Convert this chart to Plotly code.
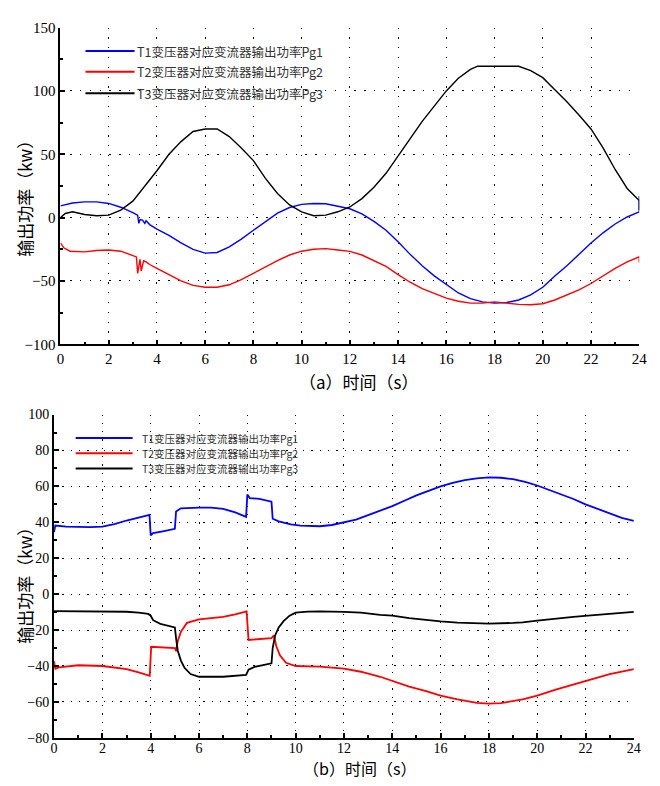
import plotly.graph_objects as go

W, H = 660, 786

# ---------------- (a) data ----------------
t_a_pg1 = [0, 0.5, 1.0, 1.5, 2.0, 2.5, 3.0, 3.2, 3.25, 3.3, 3.4, 3.5, 3.55, 3.7, 4.0, 4.5, 5.0, 5.5,
           6.0, 6.5, 7.0, 7.5, 8.0, 8.5, 9.0, 9.5, 10.0, 10.5, 11.0, 11.5, 12.0, 12.5, 13.0, 13.5,
           14.0, 14.5, 15.0, 15.5, 16.0, 16.5, 17.0, 17.5, 18.0, 18.5, 19.0, 19.5, 20.0, 20.5, 21.0,
           21.5, 22.0, 22.5, 23.0, 23.5, 24.0, 24.0]
a_pg1 = [9.3, 11.5, 12.4, 12.4, 11.2, 8.2, 4.0, 2.0, -4.5, -1.5, -2.0, -4.5, -2.5, -5.5, -9, -14, -20, -25,
         -28, -27.5, -23, -17, -10, -3, 3.5, 8, 10.5, 11.2, 11, 9, 7, 3, -3, -10,
         -19, -29, -38, -46, -53, -59.5, -64, -66.5, -67.5, -67, -65, -61, -55, -46, -38,
         -29, -20, -12, -5, 0.5, 4.6, 17]

t_a_pg2 = [0, 0.15, 0.4, 1.0, 1.5, 2.0, 2.5, 3.0, 3.15, 3.2, 3.25, 3.3, 3.35, 3.45, 3.55, 3.7, 4.0, 4.5,
           5.0, 5.5, 6.0, 6.5, 7.0, 7.5, 8.0, 8.5, 9.0, 9.5, 10.0, 10.5, 11.0, 11.5, 12.0, 12.5, 13.0,
           13.5, 14.0, 14.5, 15.0, 15.5, 16.0, 16.5, 17.0, 17.5, 18.0, 18.5, 19.0, 19.5, 20.0, 20.5,
           21.0, 21.5, 22.0, 22.5, 23.0, 23.5, 24.0, 24.0]
a_pg2 = [-20, -24, -26.5, -27, -26, -25.5, -26.5, -29.5, -31, -44, -36, -33, -42, -34, -35, -37, -40, -45,
         -50, -53.5, -55, -55, -53, -49, -44, -38.5, -34, -29.5, -26.5, -25, -24.5, -25.5, -26.6, -29.5, -34,
         -38.5, -45, -51, -56, -60, -63.5, -66, -67.5, -67.5, -66.5, -67.5, -68.5, -68.8, -68, -65,
         -61, -57, -52, -46, -40, -35, -31, -35.5]

t_a_pg3 = [0, 0.2, 0.5, 1.0, 1.5, 2.0, 2.5, 3.0, 3.5, 4.0, 4.5, 5.0, 5.5, 6.0, 6.5, 7.0, 7.5, 8.0, 8.5,
           9.0, 9.5, 10.0, 10.5, 11.0, 11.5, 12.0, 12.5, 13.0, 13.5, 14.0, 14.5, 15.0, 15.5, 16.0, 16.5,
           17.0, 17.3, 18.0, 19.0, 19.5, 20.0, 20.5, 21.0, 21.5, 22.0, 22.5, 23.0, 23.5, 24.0, 24.0]
a_pg3 = [0, 3.3, 4.6, 2.5, 1.5, 2, 6, 13, 25, 37, 50, 60, 68, 70, 70, 64, 55, 45, 31,
         19, 10, 4.5, 1.5, 2, 4.6, 8.4, 15, 24, 35, 49, 62, 76, 88, 100, 110,
         117, 119.5, 119.5, 119.5, 116, 110.5, 101, 91.5, 81, 70, 55, 38, 23, 13.5, 6]

# ---------------- (b) data ----------------
t_b_pg1 = [0, 0.05, 0.5, 1.0, 1.5, 2.0, 2.5, 3.0, 3.5, 3.95, 4.0, 4.1, 4.5, 5.0, 5.05, 5.25, 6.0, 6.5,
           7.0, 7.5, 7.95, 8.0, 8.1, 8.5, 9.0, 9.05, 9.3, 9.8, 10.2, 11.0, 11.5, 12.0, 12.5, 13.0, 13.5,
           14.0, 14.5, 15.0, 15.5, 16.0, 16.5, 17.0, 17.5, 18.0, 18.5, 19.0, 19.5, 20.0, 20.5, 21.0,
           21.5, 22.0, 22.5, 23.0, 23.5, 24.0]
b_pg1 = [34.5, 38.2, 37.6, 37.3, 37.3, 37.6, 39, 41, 42.5, 44.2, 32.7, 34, 35, 36.4, 46, 47.8, 48.2, 48.2,
         47.5, 45.5, 43, 55.5, 53.5, 53, 51.5, 42, 40.5, 38.8, 38.2, 37.8, 38.5, 40, 41.5, 44, 46.5,
         49, 52, 55, 57.5, 60, 62, 63.5, 64.5, 65, 64.8, 64, 62.5, 60.5, 58, 55.5,
         53, 50, 47.5, 45, 42.5, 40.8]

t_b_pg2 = [0, 0.05, 0.2, 0.5, 1.0, 2.0, 3.0, 3.5, 3.96, 4.02, 4.5, 5.0, 5.05, 5.12, 5.25, 5.5, 6.0, 7.0,
           7.5, 7.97, 8.05, 8.5, 9.0, 9.1, 9.2, 9.35, 9.6, 10.0, 11.0, 12.0, 12.7, 13.5, 14.0, 14.7,
           15.4, 16.0, 16.7, 17.5, 18.0, 18.5, 19.4, 20.0, 20.8, 21.5, 22.1, 23.0, 24.0]
b_pg2 = [-37.3, -41.5, -40.8, -40.2, -39.6, -40, -41.8, -43.5, -45.5, -29.3, -29.8, -30, -31.8, -26, -21, -16, -14, -12.7,
         -11.2, -9.6, -25.5, -25.2, -24.5, -23, -29, -34, -38.2, -40, -40.4, -41.5, -43.2, -46, -48.3, -51.5,
         -54, -56.5, -58.6, -60.5, -61, -60.7, -58.6, -56.5, -53, -50.3, -47.7, -44.5, -41.8]

t_b_pg3 = [0, 0.5, 1.0, 2.0, 3.0, 3.5, 3.9, 4.0, 4.1, 4.4, 4.8, 5.0, 5.05, 5.12, 5.25, 5.4, 5.65, 6.0,
           7.0, 7.6, 7.95, 8.05, 8.3, 8.6, 9.0, 9.05, 9.15, 9.3, 9.5, 9.75, 10.0, 10.5, 11.0, 12.0,
           12.7, 13.5, 14.0, 14.7, 15.4, 16.0, 16.7, 17.5, 18.0, 19.0, 19.4, 20.0, 20.8, 21.5, 22.1,
           23.0, 24.0]
b_pg3 = [-9.5, -9.5, -9.6, -9.5, -9.8, -10.3, -11, -12, -14.5, -16.5, -18, -18.5, -24.5, -31.5, -37, -41, -44.5, -46,
         -46, -45.5, -45, -42, -40.5, -39.6, -38.5, -30, -23, -18.5, -15, -12, -10.3, -9.7, -9.6, -9.9,
         -10.3, -11.5, -12, -13.3, -14.4, -15.2, -15.9, -16.3, -16.4, -16, -15.7, -14.7, -13.5, -12.6, -12,
         -11, -9.9]

series_names = ["T1变压器对应变流器输出功率Pg1", "T2变压器对应变流器输出功率Pg2", "T3变压器对应变流器输出功率Pg3"]
colors = ["#0000FF", "#FF0000", "#000000"]
x_ticks = list(range(0, 25, 2))
y_ticks_a = [150, 100, 50, 0, -50, -100]
y_ticks_b = list(range(-80, 101, 20))
xlabel_a = "（a）时间（s）"
xlabel_b = "（b）时间（s）"
ylabel = "输出功率（kw）"


def px(x):
    return x / W


def py(y):
    return 1 - y / H


fig = go.Figure()
for t, v, c, n in [(t_a_pg1, a_pg1, colors[0], series_names[0]),
                   (t_a_pg2, a_pg2, colors[1], series_names[1]),
                   (t_a_pg3, a_pg3, colors[2], series_names[2])]:
    fig.add_trace(go.Scatter(x=t, y=v, mode="lines", line=dict(color=c, width=1.4),
                             name=n, xaxis="x", yaxis="y", showlegend=False))
for t, v, c, n in [(t_b_pg1, b_pg1, colors[0], series_names[0]),
                   (t_b_pg2, b_pg2, colors[1], series_names[1]),
                   (t_b_pg3, b_pg3, colors[2], series_names[2])]:
    fig.add_trace(go.Scatter(x=t, y=v, mode="lines", line=dict(color=c, width=1.8),
                             name=n, xaxis="x2", yaxis="y2", showlegend=False))

serif = "Liberation Serif, Times New Roman, serif"
tickfont_a = dict(family=serif, size=15, color="black")
tickfont_b = dict(family=serif, size=14, color="black")


def xax(domain, anchor, font, dash, standoff=0):
    return dict(domain=domain, anchor=anchor, range=[0, 24], tickvals=x_ticks,
                showline=True, linecolor="black", linewidth=1.5, mirror=False,
                ticks="inside", ticklen=5, tickwidth=1.5, tickcolor="black",
                minor=dict(ticks="inside", dtick=1, ticklen=3, tickcolor="black", showgrid=False),
                showgrid=True, gridcolor="#000000", gridwidth=1, griddash=dash,
                zeroline=False, tickfont=font, fixedrange=True, ticklabelstandoff=standoff)


def yax(domain, anchor, rng, vals, mdt, font, dash):
    return dict(domain=domain, anchor=anchor, range=rng, tickvals=vals,
                showline=True, linecolor="black", linewidth=2, mirror=False,
                ticks="inside", ticklen=5, tickwidth=1.5, tickcolor="black",
                minor=dict(ticks="inside", dtick=mdt, ticklen=3, tickcolor="black", showgrid=False),
                showgrid=True, gridcolor="#000000", gridwidth=1, griddash=dash,
                zeroline=False, tickfont=font, fixedrange=True)


fig.update_layout(
    width=W, height=H, margin=dict(l=0, r=0, t=0, b=0),
    paper_bgcolor="white", plot_bgcolor="white", showlegend=False,
    xaxis=xax([px(57.5), px(647)], "y", tickfont_a, "1.3px,8.5px"),
    yaxis=yax([py(343.3), py(20)], "x", [-100, 150], y_ticks_a, 25, tickfont_a, "1.3px,8.5px"),
    xaxis2=xax([px(51), px(641.5)], "y2", tickfont_b, "1.3px,7px", standoff=-3),
    yaxis2=yax([py(745), py(415)], "x2", [-80, 100], y_ticks_b, 10, tickfont_b, "1.3px,7px"),
)

shapes = []
annotations = []
# legends (manual)
for ly, c, n in zip([44, 65, 87], colors, series_names):
    shapes.append(dict(type="line", xref="paper", yref="paper", x0=px(83), x1=px(133),
                       y0=py(ly), y1=py(ly), line=dict(color=c, width=2)))
    annotations.append(dict(xref="paper", yref="paper", x=px(133), y=py(ly), text=n, showarrow=False,
                            xanchor="left", yanchor="middle",
                            font=dict(family="Noto Sans CJK SC", size=12.5, color="#333333")))
for ly, c, n in zip([439, 454.5, 470], colors, series_names):
    shapes.append(dict(type="line", xref="paper", yref="paper", x0=px(73), x1=px(131),
                       y0=py(ly), y1=py(ly), line=dict(color=c, width=2)))
    annotations.append(dict(xref="paper", yref="paper", x=px(139), y=py(ly), text=n, showarrow=False,
                            xanchor="left", yanchor="middle",
                            font=dict(family="Noto Sans CJK SC", size=10.5, color="#333333")))

titlefont = dict(family="Noto Sans CJK SC", size=17, color="black")
titlefont_b = dict(family="Noto Sans CJK SC", size=16, color="black")
annotations += [
    dict(xref="paper", yref="paper", x=px(362), y=py(381), text=xlabel_a, showarrow=False,
         xanchor="center", yanchor="middle", font=titlefont),
    dict(xref="paper", yref="paper", x=px(362), y=py(776), text=xlabel_b, showarrow=False,
         xanchor="center", yanchor="middle", font=titlefont_b),
    dict(xref="paper", yref="paper", x=px(20), y=py(190), text=ylabel, showarrow=False, textangle=-90,
         xanchor="center", yanchor="middle", font=titlefont),
    dict(xref="paper", yref="paper", x=px(20), y=py(585), text=ylabel, showarrow=False, textangle=-90,
         xanchor="center", yanchor="middle", font=titlefont),
]
fig.update_layout(shapes=shapes, annotations=annotations)

fig.write_html("out.html")
